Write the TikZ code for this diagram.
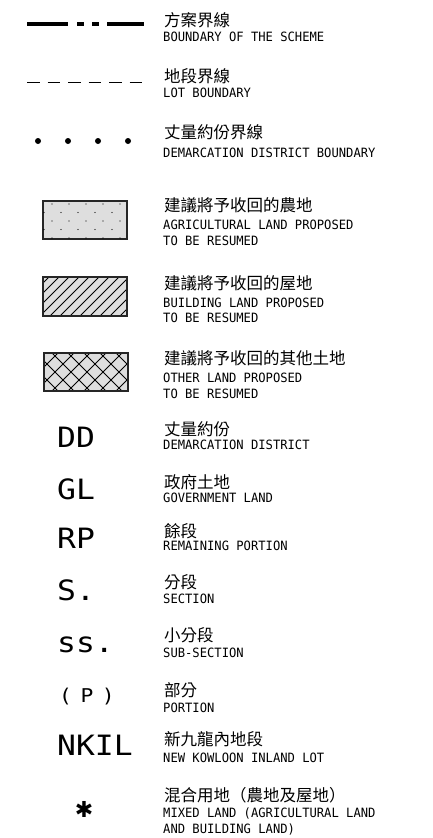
\documentclass[tikz,border=0pt]{standalone}
\usepackage{fontspec}
\setmainfont{DejaVu Sans Mono}[FakeStretch=0.95]
\newfontfamily\cjk{Noto Sans CJK TC}
\newfontfamily\legsym{DejaVu Sans Mono}[FakeStretch=1.12]
\newfontfamily\dingfont{DejaVu Sans}

\begin{document}
\begin{tikzpicture}[x=1pt,y=-1pt,
  zh/.style={anchor=west,inner sep=0pt,font=\cjk\fontsize{16.5}{18}\selectfont},
  en/.style={anchor=base west,inner sep=0pt,align=left,font=\fontsize{12.8}{15.5}\selectfont},
  abbr/.style={anchor=base west,inner sep=0pt,font=\legsym\fontsize{28}{28}\selectfont},
  sample/.style={draw=black!85,line width=1.3pt,fill=black!13}]
  \useasboundingbox (0,0) rectangle (432,838);

  % line samples
  \draw[line width=4pt,dash pattern=on 41pt off 9pt on 7pt off 8pt on 7pt off 8pt on 37pt] (27,23.5) -- (144,23.5);
  \draw[line width=1pt,dash pattern=on 12.5pt off 8pt] (27,82) -- (145,82);
  \foreach \x in {38,68,98,128}
    \fill (\x,141) circle (3pt);

  % agricultural land
  \draw[sample] (43,201) rectangle (127,239);
  \foreach \i in {0,...,4} {
    \fill (52+17*\i,204) circle (0.7pt);
    \fill (52+17*\i,221) circle (0.7pt);
    \fill (52+17*\i,238) circle (0.7pt);
    \fill (44+17*\i,212.5) circle (0.7pt);
    \fill (44+17*\i,229.5) circle (0.7pt);
  }
  % building land
  \draw[sample] (43,277) rectangle (127,316);
  \begin{scope}
    \clip (43,277) rectangle (127,316);
    \foreach \x in {0,10,...,130}
      \draw[line width=0.9pt] (\x,316) -- (\x+39,277);
  \end{scope}
  \draw[sample,fill=none] (43,277) rectangle (127,316);
  % other land
  \draw[sample] (44,353) rectangle (128,391);
  \begin{scope}
    \clip (44,353) rectangle (128,391);
    \foreach \x in {4,20,...,132} {
      \draw[line width=0.9pt] (\x,391) -- (\x+38,353);
      \draw[line width=0.9pt] (\x,353) -- (\x+38,391);
    }
  \end{scope}
  \draw[sample,fill=none] (44,353) rectangle (128,391);

  % abbreviations
  \node[abbr] (dd) at (57,447) {DD};
  \node[abbr] (gl) at (57,499) {GL};
  \node[abbr] (rp) at (57,548) {RP};
  \node[abbr] (sec) at (57,600) {S.};
  \node[abbr] (subsec) at (57,652) {ss.};
  \node[abbr,font=\legsym\fontsize{19}{19}\selectfont\addfontfeature{LetterSpace=45}] (por) at (59,702) {(P)};
  \node[abbr] (nkil) at (57,755) {NKIL};
  \node[font=\dingfont\fontsize{22}{22}\selectfont] (mix) at (84,809) {✱};

  % descriptions
  \node[zh] (zh1) at (164,20) {方案界線};
  \node[en] (en1) at (163,41) {BOUNDARY OF THE SCHEME};
  \node[zh] (zh2) at (164,76) {地段界線};
  \node[en] (en2) at (163,97) {LOT BOUNDARY};
  \node[zh] (zh3) at (164,132.5) {丈量約份界線};
  \node[en] (en3) at (163,157) {DEMARCATION DISTRICT BOUNDARY};
  \node[zh] (zh4) at (164,205) {建議將予收回的農地};
  \node[en] (en4) at (163,245) {AGRICULTURAL LAND PROPOSED\\TO BE RESUMED};
  \node[zh] (zh5) at (164,283.5) {建議將予收回的屋地};
  \node[en] (en5) at (163,322.5) {BUILDING LAND PROPOSED\\TO BE RESUMED};
  \node[zh] (zh6) at (164,358.5) {建議將予收回的其他土地};
  \node[en] (en6) at (163,398) {OTHER LAND PROPOSED\\TO BE RESUMED};
  \node[zh] (zh7) at (164,429) {丈量約份};
  \node[en] (en7) at (163,449.3) {DEMARCATION DISTRICT};
  \node[zh] (zh8) at (164,482.5) {政府土地};
  \node[en] (en8) at (163,502.7) {GOVERNMENT LAND};
  \node[zh] (zh9) at (164,531) {餘段};
  \node[en] (en9) at (163,550) {REMAINING PORTION};
  \node[zh] (zh10) at (164,582.5) {分段};
  \node[en] (en10) at (163,603.3) {SECTION};
  \node[zh] (zh11) at (164,635) {小分段};
  \node[en] (en11) at (163,657) {SUB-SECTION};
  \node[zh] (zh12) at (164,690) {部分};
  \node[en] (en12) at (163,712) {PORTION};
  \node[zh] (zh13) at (164,739) {新九龍內地段};
  \node[en] (en13) at (163,762) {NEW KOWLOON INLAND LOT};
  \node[zh] (zh14) at (164,795) {混合用地（農地及屋地）};
  \node[en] (en14) at (163,833) {MIXED LAND (AGRICULTURAL LAND\\AND BUILDING LAND)};
\end{tikzpicture}
\end{document}
